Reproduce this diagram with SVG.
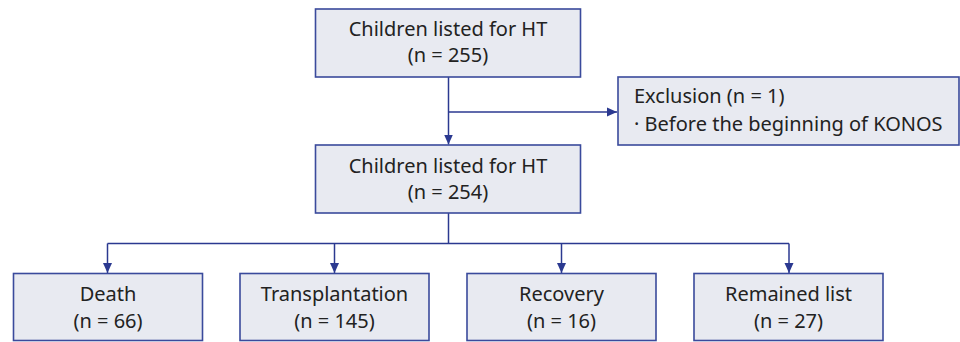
<svg xmlns="http://www.w3.org/2000/svg" width="960" height="342" viewBox="0 0 960 342">
<style>
.box{fill:#e8eaf1;stroke:#3a4a9c;stroke-width:1.6}
.t{font-family:"Noto Sans","Open Sans",sans-serif;font-size:20px;fill:#222}
.c{text-anchor:middle}
.ln{fill:none;stroke:#2b3990;stroke-width:1.5}
</style>
<defs>
<marker id="ah" viewBox="0 0 10 10" refX="10" refY="5" markerWidth="10" markerHeight="10" markerUnits="userSpaceOnUse" orient="auto">
<path d="M0,0.5 L10,5 L0,9.5 Z" fill="#2b3990"/>
</marker>
</defs>
<g id="connectors">
<path class="ln" d="M448.5,77 V144.5" marker-end="url(#ah)"/>
<path class="ln" d="M448.5,112 H617" marker-end="url(#ah)"/>
<path class="ln" d="M448.5,213 V243.5"/>
<path class="ln" d="M107.5,243.5 H789"/>
<path class="ln" d="M107.5,243.5 V273" marker-end="url(#ah)"/>
<path class="ln" d="M334.5,243.5 V273" marker-end="url(#ah)"/>
<path class="ln" d="M561.5,243.5 V273" marker-end="url(#ah)"/>
<path class="ln" d="M789,243.5 V273" marker-end="url(#ah)"/>
</g>
<g id="n1">
<rect class="box" x="315.5" y="9" width="265" height="68"/>
<text class="t c" x="448" y="36">Children listed for HT</text>
<text class="t c" x="448" y="62">(n = 255)</text>
</g>
<g id="excl">
<rect class="box" x="618" y="77" width="341" height="68"/>
<text class="t" x="634" y="103">Exclusion (n = 1)</text>
<text class="t" x="634" y="131">· Before the beginning of KONOS</text>
</g>
<g id="n2">
<rect class="box" x="315.5" y="145" width="265" height="68"/>
<text class="t c" x="448" y="173">Children listed for HT</text>
<text class="t c" x="448" y="199">(n = 254)</text>
</g>
<g id="death">
<rect class="box" x="13.5" y="273.5" width="189" height="67"/>
<text class="t c" x="108" y="301">Death</text>
<text class="t c" x="108" y="328">(n = 66)</text>
</g>
<g id="tx">
<rect class="box" x="240" y="273.5" width="189" height="67"/>
<text class="t c" x="334.5" y="301">Transplantation</text>
<text class="t c" x="334.5" y="328">(n = 145)</text>
</g>
<g id="rec">
<rect class="box" x="467" y="273.5" width="189" height="67"/>
<text class="t c" x="561.5" y="301">Recovery</text>
<text class="t c" x="561.5" y="328">(n = 16)</text>
</g>
<g id="rem">
<rect class="box" x="694" y="273.5" width="189" height="67"/>
<text class="t c" x="788.5" y="301">Remained list</text>
<text class="t c" x="788.5" y="328">(n = 27)</text>
</g>
</svg>
